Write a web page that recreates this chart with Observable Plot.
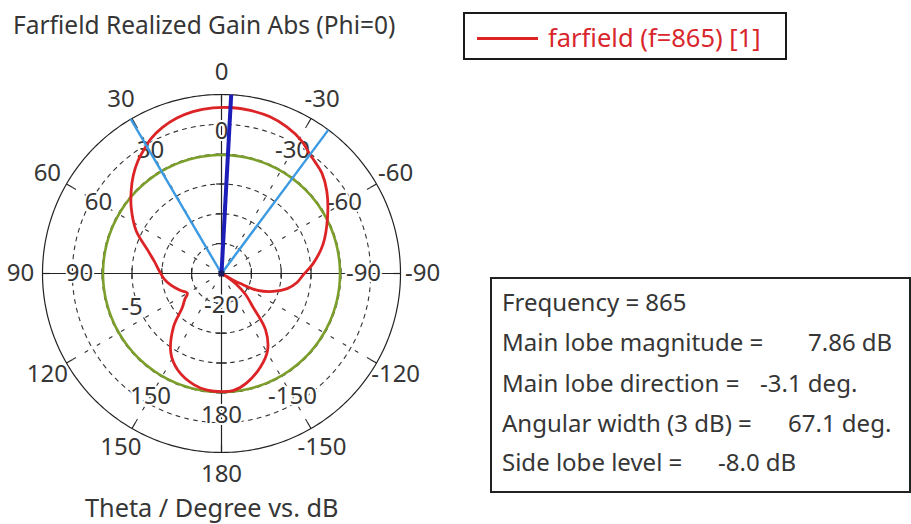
<!DOCTYPE html>
<html><head><meta charset="utf-8">
<script src="https://cdn.jsdelivr.net/npm/d3@7"></script>
<script src="https://cdn.jsdelivr.net/npm/@observablehq/plot@0.6"></script>
<style>
body{margin:0;background:#fff;}
#wrap{position:relative;width:911px;height:524px;overflow:hidden;font-family:"Noto Sans",sans-serif;color:#363636;background:#fff;}
#wrap svg{position:absolute;left:0;top:0;}
.abs{position:absolute;white-space:pre;line-height:40px;font-size:24px;}
</style></head><body><div id="wrap"></div>
<script>
// ---- data ----
const titleText = "Farfield Realized Gain Abs (Phi=0)";
const captionText = "Theta / Degree vs. dB";
const legendText = "farfield (f=865) [1]";
// red curve: theta (deg, positive = left/CCW from top) and realized gain (dB)
const thetaDeg = [-180,-174,-167,-157.5,-149,-142,-137,-131,-126,-123,-121,-119.5,-118,-115,-109,-103,-97,-91,-84,-74,-62,-52,-45,-40,-36.6,-31,-24,-17,-10,-3.1,3,10,16,22,27.6,30.45,36.6,42,47.6,54,63.4,72.7,80,87,95,103,112,120,125,131,138,147.5,155.6,166,173];
const gainDb   = [-0.2,-0.3,-1.2,-3.0,-5.0,-8.0,-12.2,-14.7,-17,-18.7,-22,-18,-16.4,-13.3,-10.8,-8.7,-7.3,-6.3,-4.6,-2.3,0.13,2.4,3.8,4.4,4.86,6.0,6.9,7.5,7.75,7.86,7.8,7.55,7.1,6.4,5.5,4.86,3.5,2.1,0.5,-1.3,-4.0,-7.1,-8.6,-9.5,-10.3,-11.3,-12.5,-13.4,-12.5,-11.3,-8.0,-4.2,-2.25,-0.8,-0.3];
const centerLevel = -20, outerLevel = 10;
const ringLevels = [-15,-10,-5,0,5];
const angleTicks = [0,30,60,90,120,150,180,-30,-60,-90,-120,-150];
const innerAngleTicks = [0,30,60,90,150,180,-30,-60,-90,-150];
const spokeAngles = [30,60,120,150,-30,-60,-120,-150];
const outerLabelLevel = 13.7, innerLabelLevel = 3.8;
const centerLabel = {text: "-20", a: 180, L: -20};
const ringLabel = {text: "-5", a: 111, L: -5};
const frequency = 865, mainLobeMag = 7.86, mainLobeDir = -3.1, beamWidth = 67.1, sideLobeLevel = -8.0;
const infoLabels = ["Frequency = 865","Main lobe magnitude =","Main lobe direction =","Angular width (3 dB) =","Side lobe level ="];
const infoValues = ["","7.86 dB","-3.1 deg.","67.1 deg.","-8.0 dB"];

// ---- geometry helpers ----
const cx = 221, cy = 273, R = 179, span = outerLevel - centerLevel;
const rad = L => Math.max(0, L - centerLevel);
const px = (a, L) => -rad(L) * Math.sin(a * Math.PI / 180);
const py = (a, L) => rad(L) * Math.cos(a * Math.PI / 180);
const sweep = d3.range(-180, 181, 1);
const ringData = ringLevels.flatMap(L => sweep.map(a => ({a, L})));
const outerData = sweep.map(a => ({a, L: outerLevel}));
const sideLobeAbs = mainLobeMag + sideLobeLevel;
const greenData = sweep.map(a => ({a, L: sideLobeAbs}));
const curve = thetaDeg.map((a, i) => ({a, L: gainDb[i]}));
const beamEdges = [mainLobeDir + beamWidth / 2, mainLobeDir - beamWidth / 2];
const tickHalf = 0.9, outerTick = 1.2;
const axisTickData = ringLevels.flatMap(L => [1, -1].map(s => ({L, s})));
const txt = {fill: "#363636", stroke: "white", strokeWidth: 4};

const chart = Plot.plot({
  width: 460, height: 524, margin: 0,
  x: {type: "linear", domain: [-span, span], range: [cx - R, cx + R], axis: null},
  y: {type: "linear", domain: [-span, span], range: [cy + R, cy - R], axis: null},
  style: {fontFamily: '"Noto Sans", sans-serif', fontSize: "24px", background: "transparent", overflow: "visible"},
  marks: [
    Plot.line(ringData, {x: d => px(d.a, d.L), y: d => py(d.a, d.L), z: "L", stroke: "#333", strokeWidth: 1.1, strokeDasharray: "4,5"}),
    Plot.link(spokeAngles, {x1: 0, y1: 0, x2: a => px(a, outerLevel), y2: a => py(a, outerLevel), stroke: "#333", strokeWidth: 1.1, strokeDasharray: "4,10"}),
    Plot.link([0, 90], {x1: a => px(a, outerLevel), y1: a => py(a, outerLevel), x2: a => px(a + 180, outerLevel), y2: a => py(a + 180, outerLevel), stroke: "#222", strokeWidth: 1.2}),
    Plot.link(axisTickData, {x1: -tickHalf, x2: tickHalf, y1: d => d.s * rad(d.L), y2: d => d.s * rad(d.L), stroke: "#222", strokeWidth: 1.2}),
    Plot.link(axisTickData, {y1: -tickHalf, y2: tickHalf, x1: d => d.s * rad(d.L), x2: d => d.s * rad(d.L), stroke: "#222", strokeWidth: 1.2}),
    Plot.line(outerData, {x: d => px(d.a, d.L), y: d => py(d.a, d.L), stroke: "#222", strokeWidth: 1.2}),
    Plot.link(angleTicks, {x1: a => px(a, outerLevel), y1: a => py(a, outerLevel), x2: a => px(a, outerLevel - outerTick), y2: a => py(a, outerLevel - outerTick), stroke: "#222", strokeWidth: 1.2}),
    Plot.text(angleTicks, {x: a => px(a, outerLabelLevel), y: a => py(a, outerLabelLevel), text: a => String(a), ...txt}),
    Plot.text(innerAngleTicks, {x: a => px(a, innerLabelLevel), y: a => py(a, innerLabelLevel), text: a => String(a), ...txt}),
    Plot.text([centerLabel], {x: d => px(d.a, d.L), y: d => py(d.a, d.L), text: "text", dy: 32, ...txt}),
    Plot.text([ringLabel], {x: d => px(d.a, d.L), y: d => py(d.a, d.L), text: "text", dx: -6, dy: 2, ...txt}),
    Plot.line(greenData, {x: d => px(d.a, d.L), y: d => py(d.a, d.L), stroke: "#7c9f2c", strokeWidth: 2.6}),
    Plot.line(curve, {x: d => px(d.a, d.L), y: d => py(d.a, d.L), stroke: "#dc2326", strokeWidth: 2.8, curve: "catmull-rom-closed"}),
    Plot.link(beamEdges, {x1: 0, y1: 0, x2: a => px(a, outerLevel), y2: a => py(a, outerLevel), stroke: "#3b9ae2", strokeWidth: 2.4}),
    Plot.link([mainLobeDir], {x1: 0, y1: 0, x2: a => px(a, outerLevel), y2: a => py(a, outerLevel), stroke: "#1d1db8", strokeWidth: 4}),
    Plot.dot([0], {x: 0, y: 0, r: 3, fill: "#1a1a60"})
  ]
});

const wrap = document.getElementById("wrap");
wrap.appendChild(chart);
function addDiv(text, style) {
  const d = document.createElement("div");
  d.className = "abs";
  d.textContent = text;
  Object.assign(d.style, style);
  wrap.appendChild(d);
  return d;
}
addDiv(titleText, {left: "13px", top: "5px", fontSize: "24.5px"});
addDiv(captionText, {left: "85px", top: "487px", fontSize: "25.3px"});
// legend
addDiv("", {left: "463px", top: "12px", width: "324px", height: "48px", boxSizing: "border-box", border: "2px solid #1a1a1a"});
addDiv("", {left: "477px", top: "37px", width: "61px", height: "3px", background: "#dc2326"});
addDiv(legendText, {left: "548px", top: "17px", color: "#d8262c", fontSize: "25.5px"});
// info box
addDiv("", {left: "490px", top: "277px", width: "421px", height: "216px", boxSizing: "border-box", border: "2px solid #222"});
const lineCenters = [302, 342, 383, 423, 462];
const valueLeft = [0, 808, 760, 788, 718];
infoLabels.forEach((t, i) => {
  addDiv(t, {left: "502px", top: (lineCenters[i] - 20) + "px"});
  if (infoValues[i]) addDiv(infoValues[i], {left: valueLeft[i] + "px", top: (lineCenters[i] - 20) + "px"});
});
</script></body></html>
